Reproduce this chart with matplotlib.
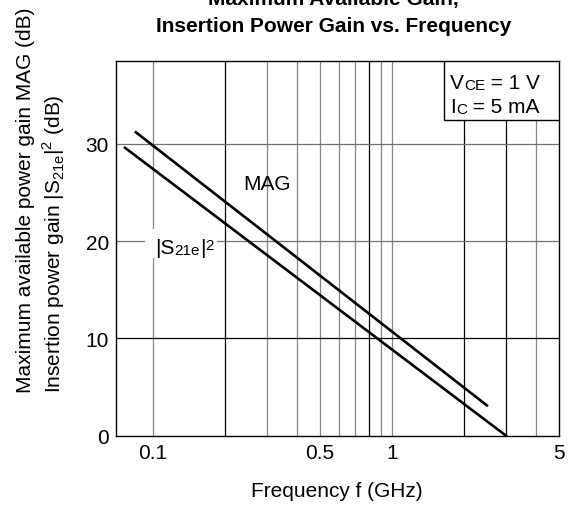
import matplotlib
matplotlib.use('Agg')
import matplotlib.pyplot as plt
from matplotlib.patches import Rectangle

plt.rcParams['font.family'] = ['Liberation Sans', 'DejaVu Sans']
plt.rcParams['mathtext.fontset'] = 'custom'
plt.rcParams['mathtext.rm'] = 'Liberation Sans'

# values (f in GHz, gain in dB)
mag_f = [0.085, 2.5]
mag_db = [31.2, 3.1]
s21_f = [0.0766, 3.0]
s21_db = [29.6, 0.0]

x_ticks = [0.1, 0.5, 1, 5]
x_ticklabels = ['0.1', '0.5', '1', '5']
y_ticks = [0, 10, 20, 30]

# grid lines (the scan has some darker than others)
vgrid = [0.1, 0.2, 0.3, 0.4, 0.5, 0.6, 0.7, 0.8, 0.9, 1, 2, 3, 4]
vgrid_dark = [0.2, 0.8, 2, 3]
hgrid = [10, 20, 30]
hgrid_dark = [10]

FS = 15
SUB = 11


def chain_text(ax, x, y, parts, **kw):
    # parts: (text, size, 'base'|'sup'); small text sits near the baseline
    s, fs, _ = parts[0]
    t = ax.text(x, y, s, fontsize=fs, va='baseline', ha='left', **kw)
    for s, fs, pos in parts[1:]:
        if pos == 'sup':
            t = ax.annotate(s, xy=(1, 1), xycoords=t, fontsize=fs,
                            va='top', ha='left', **kw)
        else:
            t = ax.annotate(s, xy=(1, 0), xycoords=t, fontsize=fs,
                            va='bottom', ha='left', **kw)
    return t


fig = plt.figure(figsize=(5.68, 5.06), dpi=100)
ax = fig.add_axes([0.2037, 0.1372, 0.7803, 0.7397])
ax.set_xscale('log')
ax.set_xlim(0.07, 5)
ax.set_ylim(0, 38.5)

for v in vgrid:
    c = 'black' if v in vgrid_dark else '#858585'
    ax.axvline(v, color=c, lw=0.9, zorder=1)
for h in hgrid:
    c = 'black' if h in hgrid_dark else '#707070'
    ax.axhline(h, color=c, lw=0.9, zorder=1)

ax.plot(mag_f, mag_db, color='black', lw=1.9, zorder=3)
ax.plot(s21_f, s21_db, color='black', lw=1.9, zorder=3)

ax.set_xticks(x_ticks)
ax.set_xticklabels(x_ticklabels)
ax.xaxis.set_minor_locator(matplotlib.ticker.NullLocator())
ax.set_yticks(y_ticks)
ax.tick_params(length=0, labelsize=FS, pad=5)
for s in ax.spines.values():
    s.set_linewidth(1.0)
    s.set_zorder(4)

ax.text(0.30, 25.9, 'MAG', fontsize=FS, ha='center', va='center', zorder=5)

# white gap in the grid behind the |S21e|^2 label
ax.add_patch(Rectangle((0.066, 0.4745), 0.162, 0.0775, transform=ax.transAxes,
                       facecolor='white', edgecolor='none', zorder=2))
chain_text(ax, 0.1022, 18.8,
           [('|S', FS, 'base'), ('21e', SUB, 'base'), ('|', FS, 'base'),
            ('2', SUB, 'sup')],
           zorder=5)

ax.add_patch(Rectangle((0.741, 0.843), 0.259, 0.157, transform=ax.transAxes,
                       facecolor='white', edgecolor='black', lw=1.0, zorder=5))
chain_text(ax, 0.755, 0.9287,
           [('V', FS, 'base'), ('CE', SUB, 'base'), (' = 1 V', FS, 'base')],
           transform=ax.transAxes, zorder=6)
chain_text(ax, 0.755, 0.8645,
           [('I', FS, 'base'), ('C', SUB, 'base'), (' = 5 mA', FS, 'base')],
           transform=ax.transAxes, zorder=6)

ax.set_xlabel('Frequency f (GHz)', fontsize=FS, labelpad=14)

fig.text(0.0725, 1 - 393 / 506,
         'Maximum available power gain MAG (dB)\n'
         r'Insertion power gain |S$_{\mathregular{21e}}$|$^{\mathregular{2}}$ (dB)',
         rotation=90, fontsize=FS, ha='center', va='bottom',
         multialignment='left', linespacing=1.25)

fig.text(0.587, 0.990, 'Maximum Available Gain,', fontsize=FS,
         fontweight='bold', ha='center', va='baseline')
fig.text(0.587, 0.9368, 'Insertion Power Gain vs. Frequency', fontsize=FS,
         fontweight='bold', ha='center', va='baseline')

fig.savefig('out.png', dpi=100)
